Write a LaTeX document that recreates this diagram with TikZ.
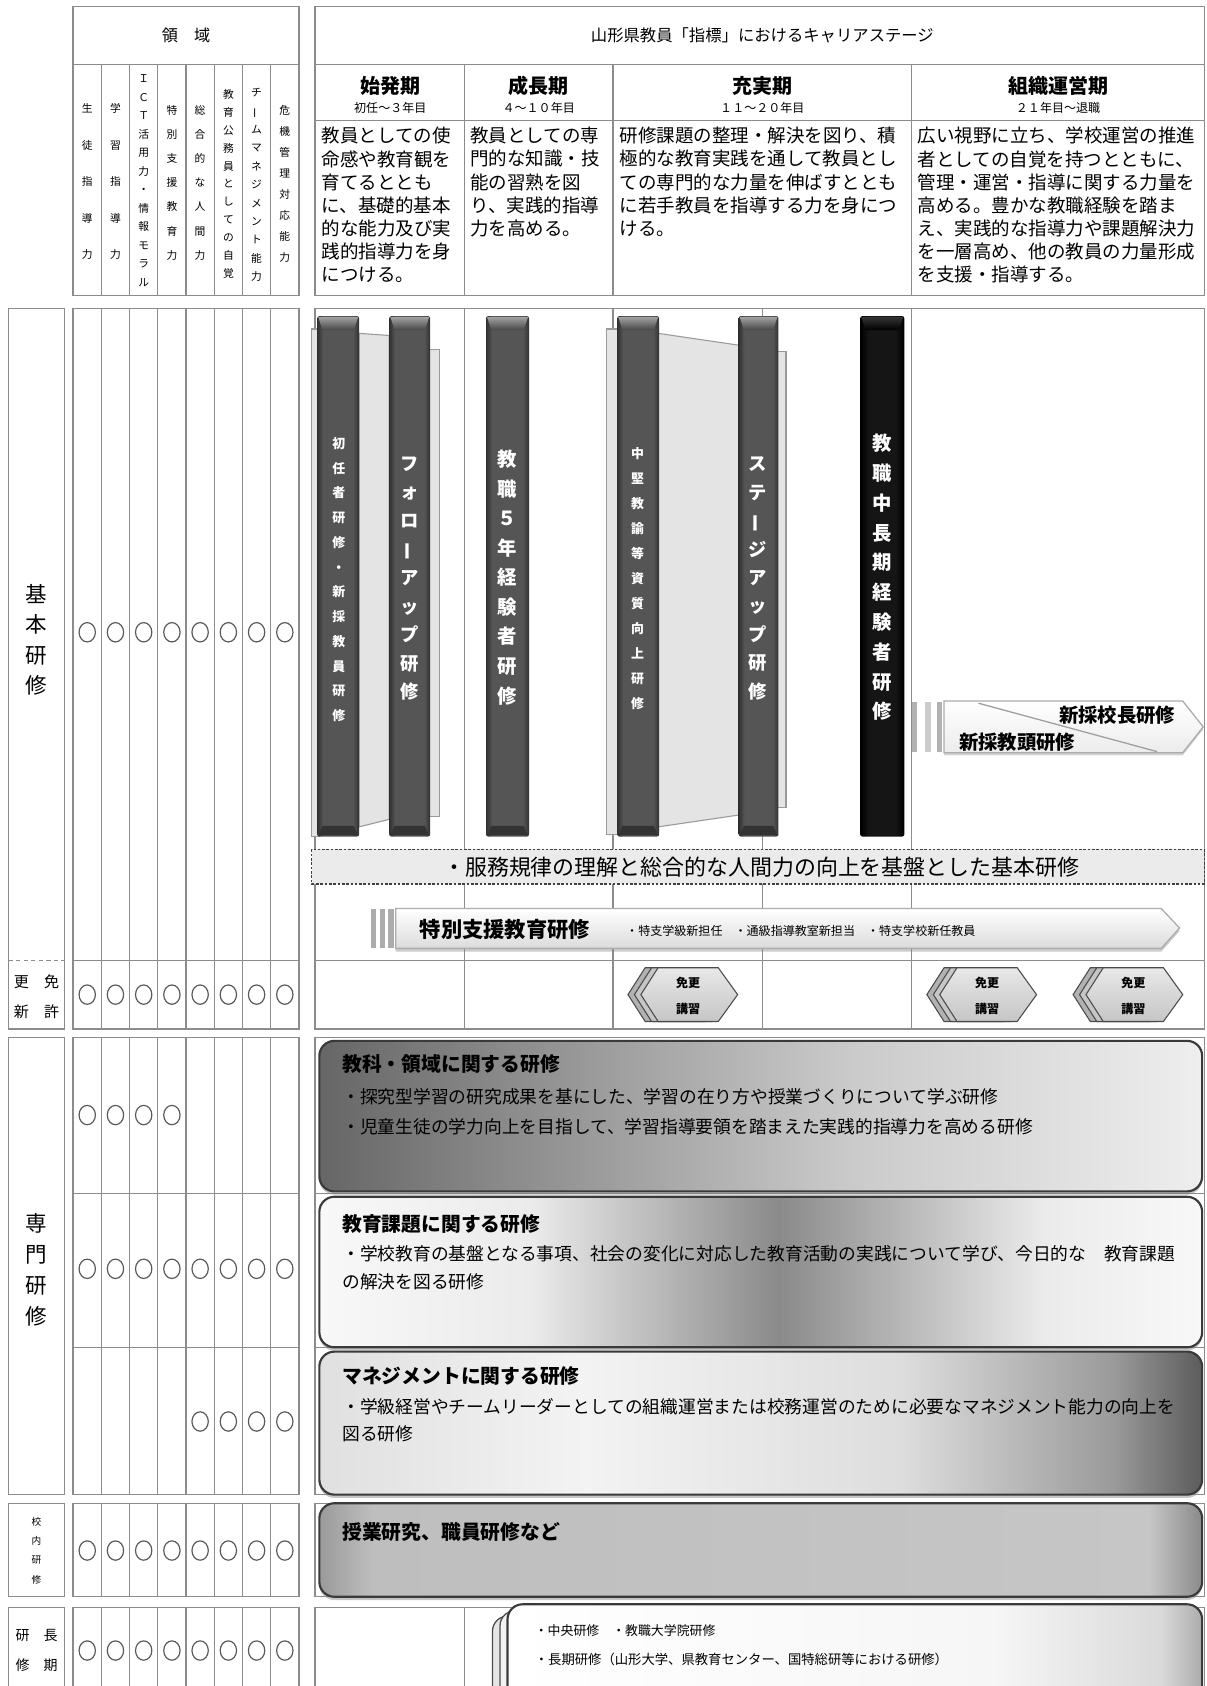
\documentclass[tikz,border=0pt]{standalone}
\usepackage{fontspec}
\setmainfont{Noto Sans CJK JP}
\usetikzlibrary{shadows}
\definecolor{gridc}{HTML}{8C8C8C}
\definecolor{spA}{HTML}{303030}
\definecolor{spB}{HTML}{555555}
\definecolor{kA}{HTML}{000000}
\definecolor{kB}{HTML}{151515}
\definecolor{pagec}{HTML}{E4E4E4}
\definecolor{pageb}{HTML}{9A9A9A}
\definecolor{capc}{HTML}{858585}
\definecolor{capk}{HTML}{3A3A3A}
\definecolor{boxb}{HTML}{3A3A3A}
\definecolor{k1}{HTML}{666666}
\definecolor{k2}{HTML}{8C8C8C}
\definecolor{k3}{HTML}{CACACA}
\definecolor{k4}{HTML}{EEEEEE}
\definecolor{d1}{HTML}{F8F8F8}
\definecolor{d2}{HTML}{EBEBEB}
\definecolor{d3}{HTML}{8A8A8A}
\definecolor{m1}{HTML}{E0E0E0}
\definecolor{m2}{HTML}{F3F3F3}
\definecolor{m3}{HTML}{DDDDDD}
\definecolor{m4}{HTML}{9A9A9A}
\definecolor{m5}{HTML}{5C5C5C}
\definecolor{s1}{HTML}{9A9A9A}
\definecolor{s2}{HTML}{BEBEBE}
\definecolor{s3}{HTML}{C6C6C6}
\definecolor{s4}{HTML}{8A8A8A}
\definecolor{c1}{HTML}{FFFFFF}
\definecolor{c2}{HTML}{F6F6F6}
\definecolor{c3}{HTML}{DADADA}
\definecolor{c4}{HTML}{ABABAB}
\pgfdeclarehorizontalshading{spsh}{100bp}{color(0bp)=(spA); color(25bp)=(spA); color(32bp)=(spB); color(68bp)=(spB); color(75bp)=(spA); color(100bp)=(spA)}
\pgfdeclarehorizontalshading{spk}{100bp}{color(0bp)=(kA); color(25bp)=(kA); color(35bp)=(kB); color(65bp)=(kB); color(75bp)=(kA); color(100bp)=(kA)}
\pgfdeclarehorizontalshading{kyouka}{100bp}{color(0bp)=(k1); color(25bp)=(k1); color(36bp)=(k2); color(55bp)=(k3); color(75bp)=(k4); color(100bp)=(k4)}
\pgfdeclarehorizontalshading{kadai}{100bp}{color(0bp)=(d1); color(25bp)=(d1); color(37bp)=(d2); color(51bp)=(d3); color(66bp)=(d2); color(75bp)=(d1); color(100bp)=(d1)}
\pgfdeclarehorizontalshading{mgmt}{100bp}{color(0bp)=(m1); color(25bp)=(m1); color(40bp)=(m2); color(58bp)=(m3); color(70bp)=(m4); color(75bp)=(m5); color(100bp)=(m5)}
\pgfdeclarehorizontalshading{kounai}{100bp}{color(0bp)=(s1); color(25bp)=(s1); color(28bp)=(s2); color(72bp)=(s3); color(75bp)=(s4); color(100bp)=(s4)}
\pgfdeclarehorizontalshading{choki}{100bp}{color(0bp)=(c1); color(25bp)=(c1); color(60bp)=(c2); color(72bp)=(c3); color(75bp)=(c4); color(100bp)=(c4)}
\newcommand\vbarchar{\rotatebox[origin=c]{90}{ー}}
\newcommand\bookspine[3]{%
  \shade[shading=#3, rounded corners=1pt] (#1,294) rectangle (#2,778);
}
\newcommand\hexgroup[2]{%
  \begin{scope}[shift={(#1,925)}]
    \foreach \o/\c in {-12/gray!60, -6/gray!45}
      \draw[draw=gray!60!black, fill=\c, line width=0.5pt] (\o-44,0) -- (\o-28,-25) -- (\o+28,-25) -- (\o+46,0) -- (\o+28,25) -- (\o-28,25) -- cycle;
    \shade[draw=gray!60!black, line width=0.5pt, top color=gray!18, bottom color=gray!45] (-44,0) -- (-28,-25) -- (28,-25) -- (46,0) -- (28,25) -- (-28,25) -- cycle;
  \end{scope}
  \node[vt, font=\fontsize{5.6}{12}\selectfont\bfseries] (#2) at (#1,926) {免更\\講習};
}
\begin{document}
\begin{tikzpicture}[x=0.5pt,y=-0.5pt,
  gl/.style={draw=gridc, line width=0.6pt},
  circ/.style={draw=black!65, line width=0.55pt},
  vt/.style={align=center, inner sep=0pt},
  dsc/.style={anchor=north west, align=left, inner sep=0pt, font=\fontsize{8.6}{10.75}\selectfont},
  sn/.style={inner sep=0pt, font=\fontsize{9.3}{10}\selectfont\bfseries},
  ss/.style={inner sep=0pt, font=\fontsize{5.6}{7}\selectfont},
  bt/.style={anchor=west, inner sep=0pt, font=\fontsize{9.2}{11}\selectfont\bfseries},
  bl/.style={anchor=west, inner sep=0pt, font=\fontsize{8.25}{10}\selectfont},
  sptext/.style={vt, text=white},
  pg/.style={draw=pageb, fill=pagec, line width=0.5pt},
  cap/.style={fill=capc},
  boxs/.style={draw=boxb, line width=1pt, rounded corners=7pt, drop shadow={shadow xshift=0pt, shadow yshift=-1.5pt, opacity=0.45}},
]
\useasboundingbox (0,0) rectangle (1122,1568);
\clip (0,0) rectangle (1122,1568);
\fill[white] (0,0) rectangle (1122,1568);

% ---------- header left ----------
\draw[gl] (68,6) rectangle (278,275);
\draw[gl] (68,60) -- (278,60);
\foreach \i in {1,...,7} \draw[gl] ({68+26.25*\i},60) -- ({68+26.25*\i},275);
\node[font=\fontsize{7.5}{9}\selectfont] (ryoiki) at (173,33) {領　域};
\node[vt, font=\fontsize{5}{17}\selectfont] (h1) at (81.1,169) {生\\徒\\指\\導\\力};
\node[vt, font=\fontsize{5}{17}\selectfont] (h2) at (107.4,169) {学\\習\\指\\導\\力};
\node[vt, font=\fontsize{5}{8.6}\selectfont] (h3) at (133.6,168) {Ｉ\\Ｃ\\Ｔ\\活\\用\\力\\・\\情\\報\\モ\\ラ\\ル};
\node[vt, font=\fontsize{5}{11.2}\selectfont] (h4) at (159.9,170) {特\\別\\支\\援\\教\\育\\力};
\node[vt, font=\fontsize{5}{11.2}\selectfont] (h5) at (186.1,170) {総\\合\\的\\な\\人\\間\\力};
\node[vt, font=\fontsize{5}{8.3}\selectfont] (h6) at (212.4,171) {教\\育\\公\\務\\員\\と\\し\\て\\の\\自\\覚};
\node[vt, font=\fontsize{5}{8.55}\selectfont] (h7) at (238.6,172) {チ\\\vbarchar\\ム\\マ\\ネ\\ジ\\メ\\ン\\ト\\能\\力};
\node[vt, font=\fontsize{5}{9.8}\selectfont] (h8) at (264.9,171) {危\\機\\管\\理\\対\\応\\能\\力};

% ---------- header right ----------
\draw[gl] (293,6) rectangle (1120,275);
\draw[gl] (293,60) -- (1120,60);
\draw[gl] (293,112) -- (1120,112);
\foreach \x in {432,570,848} \draw[gl] (\x,60) -- (\x,275);
\node[font=\fontsize{7.6}{9}\selectfont] (title) at (709,33) {山形県教員「指標」におけるキャリアステージ};
\node[sn] (s1) at (363,80) {始発期};
\node[ss] (s1s) at (363,100) {初任～３年目};
\node[sn] (s2) at (501,80) {成長期};
\node[ss] (s2s) at (501,100) {４～１０年目};
\node[sn] (s3) at (709,80) {充実期};
\node[ss] (s3s) at (709,100) {１１～２０年目};
\node[sn] (s4) at (984,80) {組織運営期};
\node[ss] (s4s) at (984,100) {２１年目～退職};
\node[dsc] (d1) at (299,118) {教員としての使\\命感や教育観を\\育てるととも\\に、基礎的基本\\的な能力及び実\\践的指導力を身\\につける。};
\node[dsc] (d2) at (437,118) {教員としての専\\門的な知識・技\\能の習熟を図\\り、実践的指導\\力を高める。};
\node[dsc] (d3) at (576,118) {研修課題の整理・解決を図り、積\\極的な教育実践を通して教員とし\\ての専門的な力量を伸ばすととも\\に若手教員を指導する力を身につ\\ける。};
\node[dsc] (d4) at (853,118) {広い視野に立ち、学校運営の推進\\者としての自覚を持つとともに、\\管理・運営・指導に関する力量を\\高める。豊かな教職経験を踏ま\\え、実践的な指導力や課題解決力\\を一層高め、他の教員の力量形成\\を支援・指導する。};

% ---------- left labels ----------
\draw[gl] (8,287) rectangle (60,957);
\draw[draw=gridc, line width=0.6pt, dash pattern=on 2pt off 1.5pt] (8,893) -- (60,893);
\draw[gl] (8,965) rectangle (60,1390);
\draw[gl] (8,1398) rectangle (60,1485);
\draw[gl] (8,1495) rectangle (60,1580);
\node[vt, font=\fontsize{10}{14.2}\selectfont] (kihon) at (34,595) {基\\本\\研\\修};
\node[vt, font=\fontsize{7}{13.5}\selectfont] (menkyo) at (34,927) {更　免\\新　許};
\node[vt, font=\fontsize{10}{14.5}\selectfont] (senmon) at (34,1181) {専\\門\\研\\修};
\node[vt, font=\fontsize{4.5}{9}\selectfont] (kounai) at (34,1442) {校\\内\\研\\修};
\node[vt, font=\fontsize{6.5}{14}\selectfont] (choki) at (34,1535) {研　長\\修　期};

% ---------- circle grid ----------
\draw[gl] (68,287) rectangle (278,957);
\draw[gl] (68,893) -- (278,893);
\draw[gl] (68,965) rectangle (278,1390);
\draw[gl] (68,1110) -- (278,1110);
\draw[gl] (68,1253) -- (278,1253);
\draw[gl] (68,1398) rectangle (278,1485);
\draw[gl] (68,1495) rectangle (278,1580);
\foreach \i in {1,...,7} {
  \draw[gl] ({68+26.25*\i},287) -- ({68+26.25*\i},957);
  \draw[gl] ({68+26.25*\i},965) -- ({68+26.25*\i},1390);
  \draw[gl] ({68+26.25*\i},1398) -- ({68+26.25*\i},1485);
  \draw[gl] ({68+26.25*\i},1495) -- ({68+26.25*\i},1580);
}
\foreach \k in {1,...,8} {
  \draw[circ] ({81.125+26.25*(\k-1)},588) ellipse [x radius=3.8pt, y radius=4.5pt];
  \draw[circ] ({81.125+26.25*(\k-1)},925) ellipse [x radius=3.8pt, y radius=4.5pt];
  \draw[circ] ({81.125+26.25*(\k-1)},1180) ellipse [x radius=3.8pt, y radius=4.5pt];
  \draw[circ] ({81.125+26.25*(\k-1)},1442) ellipse [x radius=3.8pt, y radius=4.5pt];
  \draw[circ] ({81.125+26.25*(\k-1)},1535) ellipse [x radius=3.8pt, y radius=4.5pt];
}
\foreach \k in {1,...,4} \draw[circ] ({81.125+26.25*(\k-1)},1037) ellipse [x radius=3.8pt, y radius=4.5pt];
\foreach \k in {5,...,8} \draw[circ] ({81.125+26.25*(\k-1)},1322) ellipse [x radius=3.8pt, y radius=4.5pt];

% ---------- right body grid ----------
\draw[gl] (293,287) rectangle (1120,957);
\draw[gl] (293,893) -- (1120,893);
\foreach \x in {432,570,709,848} \draw[gl] (\x,287) -- (\x,957);
\draw[gl] (293,965) rectangle (1120,1390);
\draw[gl] (293,1110) -- (1120,1110);
\draw[gl] (293,1253) -- (1120,1253);
\draw[gl] (293,1398) rectangle (1120,1485);
\draw[gl] (293,1495) rectangle (1120,1580);
\draw[gl] (432,1495) -- (432,1580);

% ---------- books ----------
\draw[pg] (290,306) rectangle (297,778);
\draw[pg] (334,310) -- (362,312) -- (362,762) -- (334,769) -- cycle;
\draw[pg] (398,325) rectangle (409,759);
\draw[pg] (564,306) rectangle (576,776);
\draw[pg] (612,310) -- (687,321) -- (687,758) -- (612,769) -- cycle;
\draw[pg] (722,327) rectangle (731,751);
\bookspine{295}{334}{spsh}
\bookspine{362}{400}{spsh}
\bookspine{452}{492}{spsh}
\bookspine{574}{613}{spsh}
\bookspine{687}{724}{spsh}
\bookspine{800}{841}{spk}
\foreach \a/\b in {295/334,362/400,452/492,574/613,687/724} {
  \shade[top color=gray!75, bottom color=gray!55!black] (\a+1,295) -- (\b-1,295) -- (\b-5,307) -- (\a+5,307) -- cycle;
  \fill[black!80] (\a+5,768) -- (\b-5,768) -- (\b-1,777) -- (\a+1,777) -- cycle;
}
\shade[top color=gray!40!black, bottom color=black] (801,295) -- (840,295) -- (836,307) -- (805,307) -- cycle;
\node[sptext, font=\fontsize{6}{11.5}\selectfont\bfseries] (b1) at (315,539) {初\\任\\者\\研\\修\\・\\新\\採\\教\\員\\研\\修};
\node[sptext, font=\fontsize{8.5}{13.3}\selectfont\bfseries] (b2) at (381,538) {フ\\ォ\\ロ\\\vbarchar\\ア\\ッ\\プ\\研\\修};
\node[sptext, font=\fontsize{9}{13.75}\selectfont\bfseries] (b3) at (472,537) {教\\職\\５\\年\\経\\験\\者\\研\\修};
\node[sptext, font=\fontsize{6}{11.65}\selectfont\bfseries] (b4) at (593,538) {中\\堅\\教\\諭\\等\\資\\質\\向\\上\\研\\修};
\node[sptext, font=\fontsize{8.5}{13.2}\selectfont\bfseries] (b5) at (705,538) {ス\\テ\\\vbarchar\\ジ\\ア\\ッ\\プ\\研\\修};
\node[sptext, font=\fontsize{9}{13.85}\selectfont\bfseries] (b6) at (820,537) {教\\職\\中\\長\\期\\経\\験\\者\\研\\修};

% ---------- new principal arrow ----------
\fill[gray!60] (848,653) rectangle (853,699);
\fill[gray!40] (860,653) rectangle (866,699);
\fill[gray!60] (871,653) rectangle (876,699);
\shade[draw=gray!65, line width=0.6pt, top color=white, bottom color=gray!15, drop shadow={shadow xshift=0pt, shadow yshift=-1.2pt, opacity=0.35}] (878,652) -- (1100,652) -- (1119,676) -- (1100,700) -- (878,700) -- cycle;
\draw[gray!75, line width=0.6pt] (910,654) -- (1076,699);
\node[inner sep=0pt, font=\fontsize{9}{10}\selectfont\bfseries] (kocho) at (1039,665) {新採校長研修};
\node[inner sep=0pt, font=\fontsize{9}{10}\selectfont\bfseries] (kyoto) at (946,690) {新採教頭研修};

% ---------- dashed base training ----------
\draw[draw=black!75, fill=gray!16, line width=0.6pt, dash pattern=on 1.2pt off 0.8pt] (290,790) rectangle (1120,822);
\node[inner sep=0pt, font=\fontsize{10.2}{12}\selectfont] (fukumu) at (708,806) {・服務規律の理解と総合的な人間力の向上を基盤とした基本研修};

% ---------- special support arrow ----------
\fill[gray!65] (345,845) rectangle (350,882);
\fill[gray!65] (353,845) rectangle (358,882);
\fill[gray!65] (361,845) rectangle (366,882);
\shade[draw=gray!65, line width=0.6pt, top color=white, bottom color=gray!28, drop shadow={shadow xshift=0pt, shadow yshift=-1.5pt, opacity=0.4}] (368,845) -- (1080,845) -- (1097,863) -- (1080,882) -- (368,882) -- cycle;
\node[anchor=west, inner sep=0pt, font=\fontsize{9.9}{11}\selectfont\bfseries] (tokushi) at (390,864) {特別支援教育研修};
\node[anchor=west, inner sep=0pt, font=\fontsize{5.6}{7}\selectfont] (tokushiitems) at (582,866) {・特支学級新担任　・通級指導教室新担当　・特支学校新任教員};

% ---------- license renewal hexagons ----------
\hexgroup{640}{hx1}
\hexgroup{918}{hx2}
\hexgroup{1054}{hx3}

% ---------- specialised training boxes ----------
\shade[boxs, shading=kyouka] (297,968) rectangle (1118,1108);
\node[bt] (t1) at (318,990) {教科・領域に関する研修};
\node[bl] (t1a) at (318,1020) {・探究型学習の研究成果を基にした、学習の在り方や授業づくりについて学ぶ研修};
\node[bl] (t1b) at (318,1048) {・児童生徒の学力向上を目指して、学習指導要領を踏まえた実践的指導力を高める研修};

\shade[boxs, shading=kadai] (297,1113) rectangle (1118,1253);
\node[bt] (t2) at (318,1138) {教育課題に関する研修};
\node[bl] (t2a) at (318,1166) {・学校教育の基盤となる事項、社会の変化に対応した教育活動の実践について学び、今日的な　教育課題};
\node[bl] (t2b) at (318,1192) {の解決を図る研修};

\shade[boxs, shading=mgmt] (297,1257) rectangle (1118,1390);
\node[bt] (t3) at (318,1280) {マネジメントに関する研修};
\node[bl] (t3a) at (318,1308) {・学級経営やチームリーダーとしての組織運営または校務運営のために必要なマネジメント能力の向上を};
\node[bl] (t3b) at (318,1333) {図る研修};

\shade[boxs, shading=kounai] (297,1398) rectangle (1118,1485);
\node[bt] (t4) at (318,1425) {授業研究、職員研修など};

% ---------- long-term training ----------
\draw[draw=gray!60!black, fill=gray!20, rounded corners=7pt, line width=0.6pt] (458,1503) rectangle (1105,1600);
\draw[draw=gray!60!black, fill=gray!10, rounded corners=7pt, line width=0.6pt] (465,1498) rectangle (1110,1600);
\shade[draw=boxb, line width=1pt, rounded corners=7pt, shading=choki] (472,1492) rectangle (1118,1600);
\node[anchor=west, inner sep=0pt, font=\fontsize{6}{7}\selectfont] (ck1) at (497,1516) {・中央研修　・教職大学院研修};
\node[anchor=west, inner sep=0pt, font=\fontsize{6.2}{7}\selectfont] (ck2) at (497,1543) {・長期研修（山形大学、県教育センター、国特総研等における研修）};
\end{tikzpicture}
\end{document}
